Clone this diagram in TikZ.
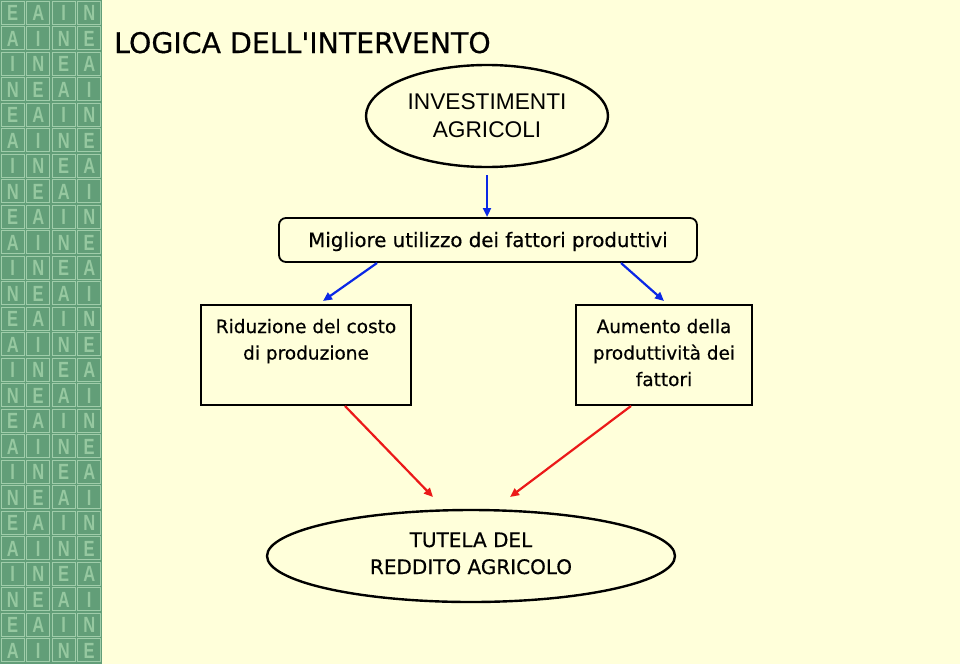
\documentclass[tikz,border=0pt]{standalone}
\usepackage{fontspec}
\setmainfont{DejaVu Sans}
\newfontfamily\comicbase[BoldFont={DejaVu Sans}, BoldFeatures={FakeBold=0.5}]{DejaVu Sans}
\newcommand\comic{\comicbase\bfseries}
\newfontfamily\arialf{Liberation Sans}
\usetikzlibrary{arrows.meta,shapes.geometric}
\definecolor{bgcream}{RGB}{255,255,218}
\definecolor{tilegreen}{RGB}{98,158,120}
\definecolor{tileline}{RGB}{160,205,170}
\definecolor{tileletter}{RGB}{150,200,160}
\definecolor{arrblue}{RGB}{10,40,230}
\definecolor{arrred}{RGB}{235,25,25}
\newcommand\tileletter[1]{\ifcase#1 E\or A\or I\or N\fi}
\tikzset{
  boxstyle/.style={draw=black, line width=1.8pt, fill=bgcream},
  ellstyle/.style={draw=black, line width=2.4pt, ellipse, fill=bgcream, align=center, inner sep=0pt},
  comictext/.style={font=\comic\fontsize{18.5}{26.5}\selectfont, align=center, inner sep=0pt},
  bluearrow/.style={draw=arrblue, line width=2.2pt, -{Triangle[length=9pt,width=8pt]}},
  redarrow/.style={draw=arrred, line width=2.2pt, -{Triangle[length=9pt,width=8pt]}},
}
\begin{document}
\begin{tikzpicture}[x=1pt,y=-1pt]
\fill[bgcream] (0,0) rectangle (960,664);
\useasboundingbox (0,0) rectangle (960,664);
% decorative tile strip
\fill[tilegreen] (0,0) rectangle (102,664);
\foreach \r in {0,...,25}{
  \foreach \c in {0,...,3}{
    \pgfmathtruncatemacro\k{mod(\r+\c,4)}
    \node[text=tileletter, font=\arialf\bfseries\fontsize{22}{22}\selectfont, xscale=0.75, inner sep=0pt]
      (t\r-\c) at (\c*25.5+12.75, \r*25.5+13) {\tileletter{\k}};
    \draw[tileline, line width=1.2pt] (\c*25.5+1.2, \r*25.5+1.2) rectangle (\c*25.5+24.3, \r*25.5+24.3);
  }
}
% title
\node[anchor=base west, font=\comic\fontsize{28.4}{28.4}\selectfont, inner sep=0pt] (title) at (114,53) {LOGICA DELL'INTERVENTO};
% nodes
\node[ellstyle, minimum width=242, minimum height=102, font=\arialf\fontsize{22.7}{28}\selectfont] (inv) at (487,116) {INVESTIMENTI\\AGRICOLI};
\node[boxstyle, rounded corners=7pt, minimum width=418, minimum height=44] (mig) at (488,240) {};
\node[comictext, font=\comic\fontsize{19.8}{26}\selectfont, anchor=base] (migt) at (488,247) {Migliore utilizzo dei fattori produttivi};
\node[boxstyle, minimum width=210, minimum height=100] (rid) at (306,355) {};
\node[comictext, anchor=base] (ridt) at (306,359.5) {Riduzione del costo\\di produzione};
\node[boxstyle, minimum width=176, minimum height=100] (aum) at (664,355) {};
\node[comictext, anchor=base] (aumt) at (664,386) {Aumento della\\produttività dei\\fattori};
\node[ellstyle, minimum width=408, minimum height=92] (tut) at (471,556) {};
\node[comictext, font=\comic\fontsize{20}{27}\selectfont, anchor=base] (tutt) at (471,574) {TUTELA DEL\\REDDITO AGRICOLO};
% connectors
\coordinate (a1s) at (487,175);
\coordinate (a1e) at (487,217);
\draw[bluearrow] (a1s) -- (a1e);
\coordinate (b1s) at (377,263);
\coordinate (b1e) at (323,301);
\draw[bluearrow] (b1s) -- (b1e);
\coordinate (b2s) at (621,263);
\coordinate (b2e) at (664,301);
\draw[bluearrow] (b2s) -- (b2e);
\coordinate (r1s) at (345,406);
\coordinate (r1e) at (433,497);
\draw[redarrow] (r1s) -- (r1e);
\coordinate (r2s) at (631,406);
\coordinate (r2e) at (510,497);
\draw[redarrow] (r2s) -- (r2e);
\end{tikzpicture}
\end{document}
